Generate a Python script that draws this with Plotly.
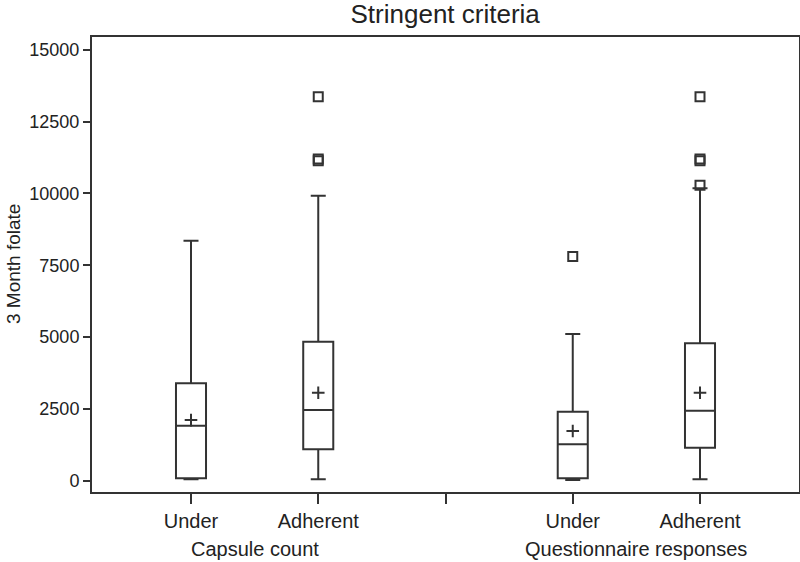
import plotly.graph_objects as go

# box statistics (3 Month folate)
positions = [1, 2, 4, 5]
lower = [40, 40, 20, 40]
q1 = [80, 1090, 80, 1140]
median = [1910, 2455, 1260, 2430]
q3 = [3385, 4835, 2395, 4780]
upper = [8355, 9920, 5105, 10180]
means = [2105, 3060, 1725, 3060]

out_x = [2, 2, 2, 4, 5, 5, 5, 5]
out_y = [13370, 11200, 11140, 7800, 13370, 11200, 11140, 10290]

tick_pos = [1, 2, 3, 4, 5]
tick_text = ["Under", "Adherent", "", "Under", "Adherent"]
y_ticks = [0, 2500, 5000, 7500, 10000, 12500, 15000]
groups = ["Capsule count", "Questionnaire responses"]
group_pos = [1.5, 4.5]

INK = "#333333"
FONT = "Liberation Sans, Arial, sans-serif"

fig = go.Figure()

fig.add_trace(go.Box(
    x=positions,
    q1=q1, median=median, q3=q3,
    lowerfence=lower, upperfence=upper,
    width=0.236,
    whiskerwidth=0.5,
    fillcolor="white",
    line=dict(color=INK, width=2),
    boxpoints=False,
    hoverinfo="skip",
    showlegend=False
))

fig.add_trace(go.Scatter(
    x=positions, y=means,
    mode="markers",
    marker=dict(symbol="cross-thin", size=9, line=dict(color=INK, width=2)),
    showlegend=False
))

fig.add_trace(go.Scatter(
    x=out_x, y=out_y,
    mode="markers",
    marker=dict(symbol="square-open", size=9, color=INK, line=dict(width=2)),
    showlegend=False
))

for name, pos in zip(groups, group_pos):
    fig.add_annotation(
        text=name, x=pos, xref="x", y=-0.125, yref="paper",
        yanchor="middle", showarrow=False,
        font=dict(size=20, color="#222", family=FONT)
    )

fig.add_annotation(
    text="3 Month folate", x=-0.111, xref="paper", xanchor="center",
    y=0.5, yref="paper", yanchor="middle",
    textangle=-90, showarrow=False,
    font=dict(size=19, color="#222", family=FONT)
)

axis_style = dict(
    showline=True, linewidth=2, linecolor=INK, mirror=True,
    ticks="outside", tickwidth=2, tickcolor=INK,
    showgrid=False, zeroline=False, automargin=False
)

fig.update_layout(
    width=800, height=562,
    margin=dict(l=92, r=1, t=37, b=70),
    paper_bgcolor="white", plot_bgcolor="white",
    font=dict(family=FONT, color="#222"),
    title=dict(text="Stringent criteria", x=0.5565, xanchor="center",
               y=1 - 14 / 562, yanchor="middle", yref="container",
               font=dict(size=26, color="#222")),
    xaxis=dict(range=[0.222, 5.778], tickvals=tick_pos, ticktext=tick_text,
               ticklen=10, tickfont=dict(size=20), **axis_style),
    yaxis=dict(range=[-400, 15450], tickvals=y_ticks,
               ticktext=[str(v) for v in y_ticks],
               ticklen=7, tickfont=dict(size=18), **axis_style),
)

# drop the browser's default body margin so the figure sits at the page origin
fig.write_html("out.html", config={"displayModeBar": False},
               post_script="document.body.style.margin='0';document.body.style.overflow='hidden';")
